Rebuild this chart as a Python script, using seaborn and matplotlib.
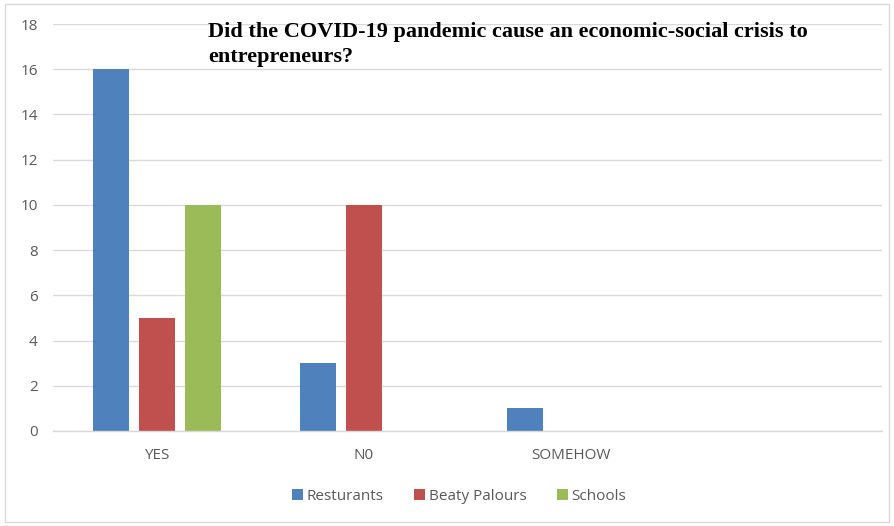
import pandas as pd
import numpy as np
from matplotlib import pyplot as plt
from matplotlib.patches import Rectangle
import seaborn as sns

answers = ["YES", "N0", "SOMEHOW"]
groups = ["Resturants", "Beaty Palours", "Schools"]
resturants = [16, 3, 1]
beaty_palours = [5, 10, 0]
schools = [10, 0, 0]
yticks = [0, 2, 4, 6, 8, 10, 12, 14, 16, 18]

colors = ["#4F81BD", "#C0504D", "#9BBB59"]
title = "Did the COVID-19 pandemic cause an economic-social crisis to\nentrepreneurs?"

df = pd.DataFrame({
    "answer": answers * 3,
    "group": [groups[0]] * 3 + [groups[1]] * 3 + [groups[2]] * 3,
    "count": resturants + beaty_palours + schools,
})

sns.set_style("white")
plt.rcParams['font.family'] = ['Open Sans', 'DejaVu Sans']

fig = plt.figure(figsize=(8.94, 5.26), dpi=100)
ax = fig.add_axes([53 / 894, 1 - 431 / 526, 829 / 894, 407 / 526])

sns.barplot(
    data=df, x="answer", y="count", hue="group",
    order=answers, hue_order=groups, palette=colors,
    width=0.667, gap=0.22, linewidth=0, saturation=1,
    ax=ax,
)

ax.set_xlim(-0.5, 3.5)
ax.set_ylim(0, 18)
ax.set_yticks(yticks)
ax.grid(axis="y", color="#D9D9D9", linewidth=1)
ax.set_axisbelow(True)
for s in ["left", "right", "top"]:
    ax.spines[s].set_visible(False)
ax.spines["bottom"].set_color("#D9D9D9")
ax.spines["bottom"].set_linewidth(1)
ax.tick_params(axis="both", length=0, labelsize=11, labelcolor="#595959")
ax.tick_params(axis="x", pad=12)
ax.tick_params(axis="y", pad=11)
ax.set_xlabel("")
ax.set_ylabel("")

fig.text(208 / 894, 1 - 22 / 526, title, ha="left", va="top",
         family="Liberation Serif", weight="bold", fontsize=16,
         linespacing=1.35, color="black")

handles, labels = ax.get_legend_handles_labels()
ax.legend(handles, labels, loc="center", bbox_to_anchor=(459 / 894, 1 - 496 / 526),
          bbox_transform=fig.transFigure, ncol=3, frameon=False,
          fontsize=11, labelcolor="#595959", handlelength=0.75, handleheight=0.75,
          handletextpad=0.2, columnspacing=2.0)

fig.add_artist(Rectangle((5 / 894, 4 / 526), 884 / 894, 518 / 526, transform=fig.transFigure,
                         fill=False, edgecolor="#D9D9D9", linewidth=1))

fig.savefig("out.png", dpi=100)
